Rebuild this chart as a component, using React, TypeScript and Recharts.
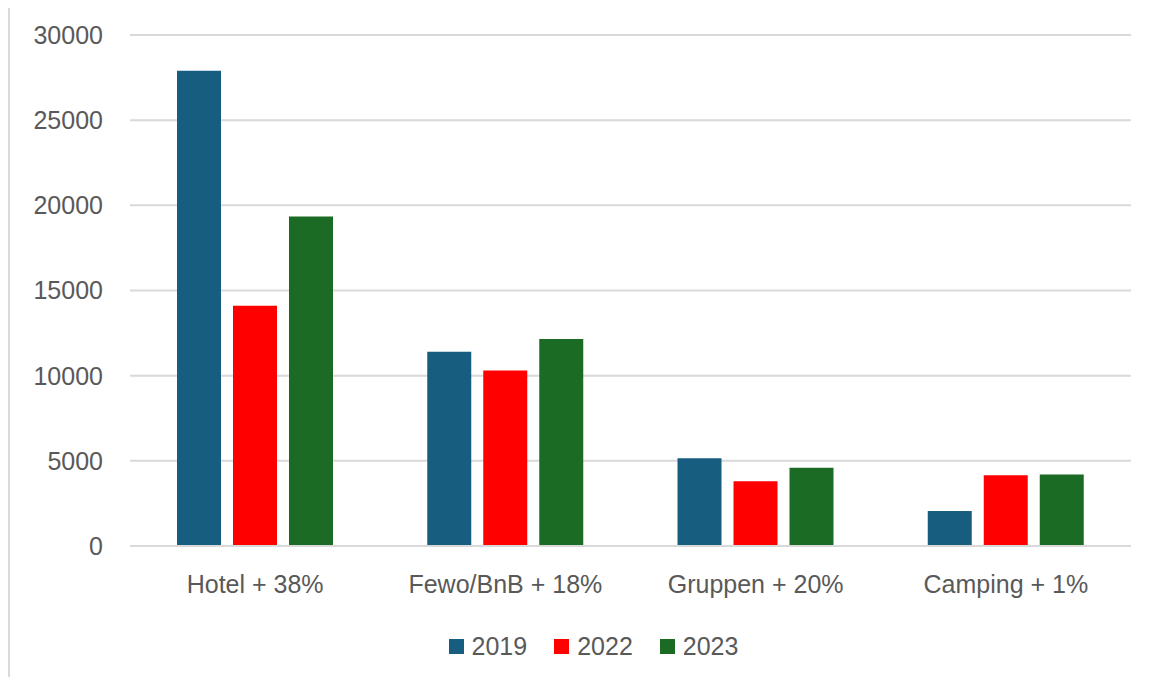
import React from 'react';
import { BarChart, Bar, XAxis, YAxis, CartesianGrid, Legend } from 'recharts';

const categories = ['Hotel + 38%', 'Fewo/BnB + 18%', 'Gruppen + 20%', 'Camping + 1%'];
const values2019 = [27900, 11400, 5150, 2050];
const values2022 = [14100, 10300, 3800, 4150];
const values2023 = [19350, 12150, 4600, 4200];
const yTicks = [0, 5000, 10000, 15000, 20000, 25000, 30000];

const series = [
  { key: '2019', color: '#175d80' },
  { key: '2022', color: '#ff0000' },
  { key: '2023', color: '#1c6b24' },
];

const data = categories.map((name, i) => ({
  name,
  '2019': values2019[i],
  '2022': values2022[i],
  '2023': values2023[i],
}));

const FONT = '"Liberation Sans", Arial, sans-serif';
const TEXT = '#595959';

const renderLegend = () => (
  <div
    style={{
      height: 30,
      display: 'flex',
      justifyContent: 'center',
      alignItems: 'center',
      gap: 27,
      paddingLeft: 56,
      fontFamily: FONT,
      fontSize: 25,
      color: TEXT,
    }}
  >
    {series.map((s) => (
      <div key={s.key} style={{ display: 'flex', alignItems: 'center' }}>
        <span style={{ width: 15, height: 15, background: s.color, marginRight: 8 }} />
        <span>{s.key}</span>
      </div>
    ))}
  </div>
);

export default function App() {
  return (
    <div style={{ position: 'relative', margin: -8, width: 1154, height: 685, background: '#fff' }}>
      <div
        style={{
          position: 'absolute',
          left: 8,
          top: 5,
          width: 2,
          height: 680,
          background: '#d9d9d9',
        }}
      />
      <BarChart
        width={1154}
        height={685}
        data={data}
        margin={{ top: 35, right: 23, left: 0, bottom: 24 }}
        barSize={44}
        barGap={12}
      >
        <CartesianGrid vertical={false} stroke="#d9d9d9" strokeWidth={2} />
        <XAxis
          dataKey="name"
          height={85}
          axisLine={{ stroke: '#d9d9d9', strokeWidth: 2 }}
          tickLine={false}
          tickSize={0}
          tickMargin={29}
          tick={{ fill: TEXT, fontSize: 25, fontFamily: FONT }}
        />
        <YAxis
          width={130}
          domain={[0, 30000]}
          ticks={yTicks}
          axisLine={false}
          tickLine={false}
          tickSize={0}
          tickMargin={27}
          tick={{ fill: TEXT, fontSize: 25, fontFamily: FONT }}
        />
        <Legend verticalAlign="bottom" content={renderLegend} />
        {series.map((s) => (
          <Bar key={s.key} dataKey={s.key} fill={s.color} isAnimationActive={false} />
        ))}
      </BarChart>
    </div>
  );
}
